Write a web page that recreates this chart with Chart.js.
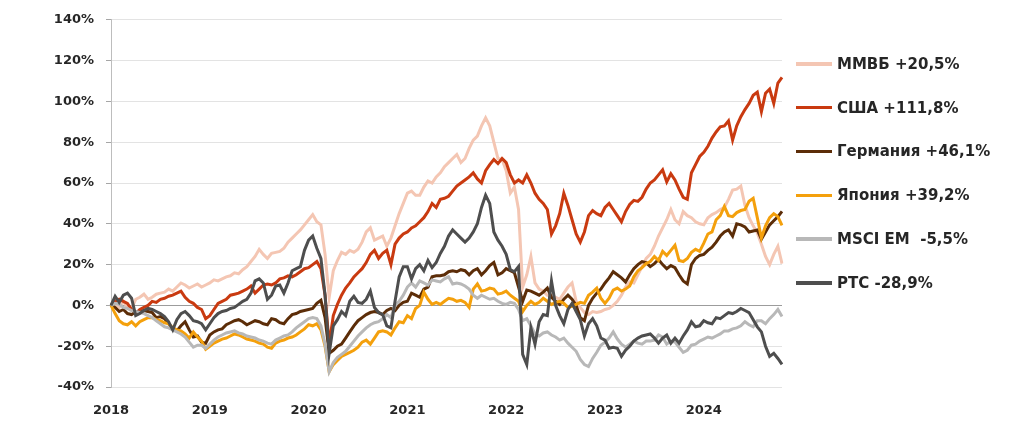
<!DOCTYPE html>
<html>
<head>
<meta charset="utf-8">
<script src="https://cdn.jsdelivr.net/npm/chart.js@4.4.1/dist/chart.umd.min.js"></script>
<style>
    body { margin: 0; background: #fff; }
    #wrap { position: relative; width: 1024px; height: 439px; }
    #legend { position: absolute; left: 796px; top: 42px; }
    .lg-row { display: flex; align-items: center; height: 43.8px; }
    .lg-line { width: 36px; height: 3.5px; margin-right: 5px; }
    .lg-text { font-family: "DejaVu Sans"; font-weight: bold; font-size: 15px; color: #262626; white-space: nowrap; }
</style>
</head>
<body>
<div id="wrap">
    <canvas id="chart" width="1024" height="439"></canvas>
    <div id="legend"></div>
</div>
<script>
// tick labels for the x axis (one per year, every 24 half-month points)
var yearLabels = ["2018", "2019", "2020", "2021", "2022", "2023", "2024"];

// half-month points from Jan 2018
var categories = [];
for (var i = 0; i < 164; i++) {
    var y = 2018 + Math.floor(i / 24);
    var m = Math.floor((i % 24) / 2) + 1;
    categories.push(y + "-" + (m < 10 ? "0" + m : m) + "-" + (i % 2 ? "16" : "01"));
}

var seriesNames = ["ММВБ +20,5%", "США +111,8%", "Германия +46,1%", "Япония +39,2%", "MSCI EM  -5,5%", "РТС -28,9%"];
var seriesColors = ["#F4C6B3", "#C93A10", "#5C2D08", "#F4A00C", "#B8B8B8", "#4E4E4E"];

// cumulative return, %
var mmvb = [0, 1, -1, 2, -1, -1.5, 3, 4, 5.5, 3, 4, 5.5,
    6, 6.5, 8, 7, 9, 11, 10, 8.5, 9.5, 10.5, 9, 10,
    11, 12.5, 12, 13, 14, 14.5, 16, 15.5, 17.5, 19, 21.5, 24,
    27.5, 25, 23, 25.5, 26, 26.5, 28, 31, 33, 35, 37, 39.5,
    42, 44.5, 41, 39.5, 25, 4, 17, 22, 26, 25, 27, 26,
    27.5, 31, 36, 38, 32, 33, 34, 29, 33, 39, 45, 50,
    55, 56, 54, 54, 58, 61, 60, 63, 65, 68, 70, 72,
    74, 70, 72, 77, 81, 83, 88, 92, 88, 80, 72, 71.5,
    66, 55, 58, 47, 9, 15, 24, 11, 8, 7, 5, 5,
    4, 3, 6, 9, 11, 2, -1, -3.5, -4.5, -3, -3.5, -3,
    -2, -1.5, 0, 2, 5, 9, 11.5, 11, 15, 19, 23, 25,
    29, 34, 38, 42, 47, 42, 40, 46, 44, 43, 41, 40,
    39.5, 43, 44.5, 45.5, 47, 48, 52, 56.5, 57, 58.5, 49, 43,
    39, 35.5, 30, 24, 20, 25, 29, 20.5];

var usa = [0, 2, 3, 2, 1, -2, -4, -2, -1, 0, 2, 1.5,
    3, 3.5, 4.5, 5, 6, 7, 4, 2, 1, -1, -2, -6.5,
    -5, -2, 1, 2, 3, 5, 5.5, 6, 7, 8, 9.5, 6,
    8, 10, 10.5, 10, 11, 13, 13.5, 14.5, 14, 15, 16.5, 18,
    18.5, 20, 21.5, 18, 5, -19, -5, 0.5, 5, 8.5, 11, 14,
    16, 18, 21, 25, 27, 23, 25.5, 27, 20, 30, 33, 35,
    36, 38, 39, 41, 43, 46, 50, 48, 52, 52.5, 53.5, 56,
    58.5, 60, 61.5, 63, 65, 62, 60, 66, 69, 71.5, 69.5, 72,
    70, 64, 60, 61.5, 60, 64, 60, 55, 52, 50, 47, 35,
    39, 45, 55, 49, 42, 35, 31, 36, 44, 46.5, 45, 44,
    48, 50, 47, 44, 41, 46, 49.5, 51.5, 51, 53, 57, 60,
    61.5, 64, 66.5, 60.5, 64.5, 61.5, 57, 53, 52, 65, 69, 73,
    75, 78, 82, 85, 87.5, 88, 90.5, 81, 88, 92.5, 96, 99,
    103, 104.5, 95, 104, 106, 99, 109, 111.8];

var ger = [0, -1, -3, -2, -4, -4.5, -3, -3.5, -2.5, -3, -3.5, -6,
    -5.5, -6.5, -9, -11.5, -12.5, -10, -8, -12, -15.5, -15, -18, -18.5,
    -14.5, -13, -12, -11.5, -9.5, -8.5, -7.5, -7, -8, -9.5, -8.5, -7.5,
    -8, -9, -9.5, -6.5, -7, -8.5, -9, -6.5, -4.5, -4, -3, -2.5,
    -2, -1.5, 1, 2.5, -6, -23.5, -22, -20, -19, -16, -13, -10,
    -7.5, -6, -4.5, -3.5, -3, -3.5, -4.5, -2.5, -1.5, -2.5, 0, 1.5,
    2, 6, 5, 4, 8, 9, 14, 14.5, 14.5, 15, 16.5, 17,
    16.5, 17.5, 17, 15, 17, 18, 15, 17, 19.5, 21, 15, 16,
    18, 17, 16, 9, 2, 7.5, 7, 6, 5, 6.5, 8.5, 4,
    2, 0.5, 3, 5, 3, 0, -6, -7.5, 0, 3.5, 6, 8,
    11, 13.5, 16.5, 15, 13.5, 11.5, 15, 18, 20, 21.5, 21, 19,
    20.5, 22.5, 20, 18, 19.5, 18.5, 15, 12, 10.5, 20, 23, 24.5,
    25, 27, 28.5, 31, 34, 36, 37, 34, 40, 39.5, 38.5, 36,
    36.5, 37, 32.5, 36, 39.5, 41.5, 43.5, 46.1];

var jpn = [0, -4, -7.5, -9, -9.5, -8, -10, -8, -7, -6, -6, -7,
    -7.5, -8.5, -9, -11, -12, -12.5, -14, -16, -13, -15.5, -17.5, -21.5,
    -20, -18.5, -17.5, -16.5, -16, -15, -14, -14.5, -15.5, -16.5, -17, -17.5,
    -18.5, -19, -20.5, -21, -18.5, -17.5, -17, -16, -15.5, -14.5, -13, -11.5,
    -9.5, -10, -9, -12, -20, -32.5, -29, -27, -25, -24, -23, -22,
    -20.5, -18, -17, -19, -16, -13, -12.5, -13, -14.5, -11, -8, -8.5,
    -5, -6.5, -1.5, 0, 6.5, 3, 0.5, 1.5, 0.5, 2, 3.5, 3,
    2, 2.5, 1.5, -1, 8, 10.5, 7, 7.5, 8.5, 8, 5.5, 6,
    7, 5, 3.5, 2, -3, 0, 2, 0.5, 1.5, 3.5, 2, 0.5,
    1.5, 2, 1, -1, -0.5, 0.5, 1.5, 1, 5, 6.5, 8.5, 3.5,
    1, 3.5, 7.5, 8.5, 7, 8, 9.5, 14, 17, 18.5, 20.5, 21.5,
    24, 22, 26.5, 24.5, 27, 29.5, 22, 21.5, 23, 26, 27.5, 26.5,
    30.5, 35, 36, 42, 44, 48.5, 44, 43.5, 45.5, 46.5, 47, 51,
    52.5, 43, 33, 39, 43, 45, 43.5, 39.2];

var em = [0, 1, 0.5, -1, -1.5, -2.5, -3, -3.5, -4, -5, -6, -7.5,
    -9, -10.5, -11, -12, -13, -14, -15.5, -18, -20.5, -19.5, -19.5, -21,
    -19, -17, -15.5, -14.5, -13.5, -13, -12.5, -13.5, -14, -15, -15.5, -16,
    -17, -17.5, -18.5, -19, -17, -16, -15, -14.5, -13, -11, -9.5, -8,
    -6.5, -6, -6.5, -10, -19, -32.5, -28, -25.5, -24, -22.5, -20, -17.5,
    -15, -13, -11, -9.5, -8.5, -8, -6.5, -4.5, -6, 0, 2, 5,
    9, 11, 9, 12, 11, 10, 12.5, 12, 11.5, 13, 14, 10.5,
    11, 10.5, 9.5, 8, 5, 3.5, 5, 4, 3, 3.5, 2, 1,
    0.5, 1.5, 1, -2, -7.5, -6.5, -10, -14, -15, -13.5, -13, -14.5,
    -15.5, -17, -16, -18.5, -20.5, -22.5, -26.5, -29, -30, -26, -23, -19.5,
    -18, -16, -13, -16.5, -19, -20.5, -19, -17.5, -18.5, -19, -17.5, -17.5,
    -17, -14.5, -15.5, -19, -17.5, -18, -20.5, -23, -22, -19.5, -19, -17.5,
    -16.5, -15.5, -16, -15, -14, -12.5, -12.5, -11.5, -11, -10, -8, -9.5,
    -10.5, -7.5, -7.5, -9, -6.5, -4.5, -2, -5.5];

var rts = [0, 4.5, 1.5, 5, 6, 3.5, -5, -4, -2.5, -1.5, -2, -3,
    -4, -5.5, -8, -12, -7, -4, -3, -5, -7.5, -8, -9, -12,
    -9, -6, -4, -3, -2.5, -1.5, -1, 0.5, 2, 3, 6, 12,
    13, 11, 3, 5, 9.5, 10, 6, 11, 17, 18, 19, 27,
    32, 34, 28, 23, 5, -23.5, -10, -7, -3, -5, 2, 4.5,
    1.5, 1, 3, 7, -1, -3.5, -4.5, -10, -11, 2, 14, 19,
    19, 13, 18, 20, 17, 22, 18.5, 21, 25.5, 29, 34, 37,
    35, 33, 31, 33, 36, 40, 48, 54, 50, 36, 32, 29,
    25, 17.5, 16.5, 19, -24, -29, -11, -19, -8, -4.5, -5, 12,
    0, -5, -9, -2, 1, -3, -7, -15, -9, -6.5, -10, -16,
    -17, -21, -20.5, -21, -25, -22, -20, -17.5, -16, -15, -14.5, -14,
    -16, -18.5, -16, -14.5, -18.5, -16, -18.5, -15, -12, -8, -10.5, -10,
    -7.5, -8.5, -9, -6, -6.5, -5, -3.5, -4, -3, -1.5, -2.5, -3.5,
    -7, -10.5, -13, -20, -25, -23.5, -26, -28.9];

var yTicks = [-40, -20, 0, 20, 40, 60, 80, 100, 120, 140];

document.addEventListener('DOMContentLoaded', function () {
    var allSeries = [mmvb, usa, ger, jpn, em, rts];
    var datasets = [];
    for (var k = 0; k < allSeries.length; k++) {
        datasets.push({
            label: seriesNames[k],
            data: allSeries[k],
            borderColor: seriesColors[k],
            backgroundColor: seriesColors[k],
            borderWidth: 3,
            pointRadius: 0,
            tension: 0,
            // first series at the back, RTS on top (like excel)
            order: allSeries.length - k
        });
    }

    var tickFont = { family: "DejaVu Sans", weight: "bold", size: 13 };

    new Chart(document.getElementById('chart'), {
        type: 'line',
        data: {
            labels: categories,
            datasets: datasets
        },
        options: {
            responsive: false,
            animation: false,
            layout: { padding: { top: 15, right: 242, left: 0, bottom: 0 } },
            plugins: {
                legend: { display: false },
                tooltip: { enabled: false }
            },
            scales: {
                x: {
                    type: 'category',
                    grid: { display: false, drawTicks: false },
                    border: { display: false },
                    ticks: {
                        autoSkip: false,
                        maxRotation: 0,
                        padding: 16,
                        color: '#262626',
                        font: tickFont,
                        callback: function (val, idx) {
                            return idx % 24 === 0 ? yearLabels[idx / 24] : '';
                        }
                    },
                    afterFit: function (s) { s.height = 52; }
                },
                y: {
                    min: -40,
                    max: 140,
                    afterBuildTicks: function (s) {
                        s.ticks = yTicks.map(function (v) { return { value: v }; });
                    },
                    grid: {
                        color: function (c) { return c.tick && c.tick.value === 0 ? '#9C9C9C' : '#E3E3E3'; },
                        tickColor: '#A6A6A6',
                        tickLength: 5,
                        lineWidth: 1
                    },
                    border: { color: '#BDBDBD' },
                    ticks: {
                        padding: 12,
                        color: '#262626',
                        font: tickFont,
                        callback: function (v) { return v + '%'; }
                    },
                    afterFit: function (s) { s.width = 111; }
                }
            }
        }
    });

    // legend drawn as html on the right
    var html = '';
    for (var j = 0; j < seriesNames.length; j++) {
        html += '<div class="lg-row"><span class="lg-line" style="background:' + seriesColors[j] + '"></span>' +
            '<span class="lg-text">' + seriesNames[j].replace(/ /g, '&nbsp;') + '</span></div>';
    }
    document.getElementById('legend').innerHTML = html;
});
</script>
</body>
</html>
